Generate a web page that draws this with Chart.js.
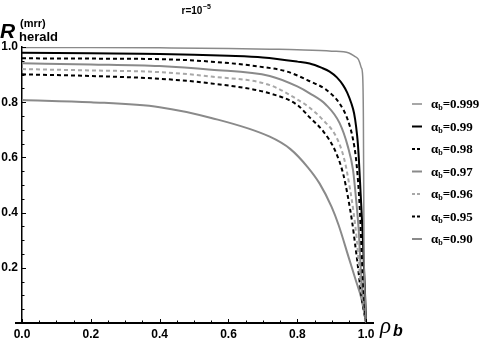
<!DOCTYPE html>
<html>
<head>
<meta charset="utf-8">
<script src="https://cdn.jsdelivr.net/npm/chart.js@4"></script>
<style>
  html, body { margin: 0; padding: 0; background: #fff; }
  #wrap { width: 484px; height: 346px; position: relative; }
</style>
</head>
<body>
<div id="wrap"><canvas id="chart"></canvas></div>
<script>
// values (rho_b -> R_herald)
const alphaLabels = ['0.999', '0.99', '0.98', '0.97', '0.96', '0.95', '0.90'];

const rho999 = [0, 0.2, 0.4, 0.6, 0.72, 0.8, 0.9, 0.95, 0.967, 0.976, 0.981, 0.986, 0.99, 0.992, 0.993, 0.994, 0.997, 1];
const r999   = [0.998, 0.998, 0.997, 0.995, 0.992, 0.99, 0.985, 0.978, 0.966, 0.958, 0.945, 0.925, 0.895, 0.75, 0.5, 0.25, 0.1, 0];

const rho99 = [0, 0.2, 0.4, 0.6, 0.7, 0.8, 0.836, 0.87, 0.894, 0.915, 0.933, 0.945, 0.957, 0.965, 0.971, 0.976, 0.979, 0.984, 0.989, 0.993, 0.997, 1];
const r99   = [0.979, 0.977, 0.975, 0.968, 0.962, 0.947, 0.94, 0.925, 0.911, 0.89, 0.862, 0.835, 0.796, 0.76, 0.711, 0.65, 0.591, 0.47, 0.349, 0.228, 0.1, 0];

const rho98 = [0, 0.2, 0.4, 0.55, 0.69, 0.77, 0.836, 0.884, 0.923, 0.947, 0.962, 0.971, 0.979, 0.984, 0.988, 0.993, 1];
const r98   = [0.959, 0.958, 0.956, 0.947, 0.929, 0.911, 0.876, 0.845, 0.795, 0.735, 0.665, 0.591, 0.47, 0.349, 0.228, 0.11, 0];

const rho97 = [0, 0.2, 0.4, 0.55, 0.72, 0.8, 0.836, 0.884, 0.923, 0.947, 0.962, 0.971, 0.979, 0.983, 0.99, 1];
const r97   = [0.941, 0.937, 0.931, 0.918, 0.895, 0.857, 0.832, 0.79, 0.724, 0.639, 0.554, 0.446, 0.326, 0.228, 0.1, 0];

const rho96 = [0, 0.2, 0.4, 0.55, 0.72, 0.8, 0.836, 0.875, 0.913, 0.937, 0.952, 0.964, 0.973, 0.978, 0.988, 1];
const r96   = [0.92, 0.915, 0.909, 0.893, 0.862, 0.81, 0.78, 0.735, 0.675, 0.591, 0.494, 0.397, 0.301, 0.228, 0.1, 0];

const rho95 = [0, 0.2, 0.4, 0.55, 0.72, 0.8, 0.836, 0.875, 0.909, 0.933, 0.947, 0.96, 0.969, 0.974, 0.986, 1];
const r95   = [0.901, 0.895, 0.885, 0.868, 0.832, 0.79, 0.745, 0.695, 0.627, 0.542, 0.458, 0.361, 0.276, 0.228, 0.1, 0];

const rho90 = [0, 0.2, 0.4, 0.55, 0.72, 0.78, 0.83, 0.865, 0.9, 0.92, 0.95, 0.97, 0.986, 1];
const r90   = [0.808, 0.8, 0.782, 0.743, 0.675, 0.63, 0.565, 0.505, 0.42, 0.355, 0.235, 0.155, 0.09, 0];

const rhoList = [rho999, rho99, rho98, rho97, rho96, rho95, rho90];
const rList = [r999, r99, r98, r97, r96, r95, r90];

// line looks
const colors = ['#8a8a8a', '#000', '#000', '#8a8a8a', '#a8a8a8', '#000', '#8a8a8a'];
const widths = [1.5, 2, 2, 2, 2, 2, 2];
const dashes = [[], [], [4, 3], [], [4, 3], [4, 3], []];

const datasets = alphaLabels.map((a, i) => ({
  label: a,
  data: rhoList[i].map((x, k) => ({ x, y: rList[i][k] })),
  borderColor: colors[i],
  borderWidth: widths[i],
  borderDash: dashes[i],
  pointRadius: 0,
  fill: false,
  cubicInterpolationMode: 'monotone'
}));

const isMajor = v => Math.abs(v * 5 - Math.round(v * 5)) < 1e-6;
const isMinor = v => Math.abs(v * 20 - Math.round(v * 20)) < 1e-6;

// inward ticks, legend, axis titles
const decor = {
  id: 'decor',
  afterDraw(chart) {
    const { ctx, chartArea: a, scales: { x, y } } = chart;
    ctx.save();
    ctx.strokeStyle = '#000';
    ctx.lineWidth = 2;
    ctx.beginPath(); ctx.moveTo(a.left - 7, a.bottom); ctx.lineTo(a.left, a.bottom); ctx.stroke();

    ctx.lineWidth = 1;
    x.ticks.forEach(t => {
      if (t.value > 1.0001 || !isMinor(t.value)) return;
      const px = Math.round(x.getPixelForValue(t.value)) + 0.5;
      ctx.beginPath(); ctx.moveTo(px, a.bottom); ctx.lineTo(px, a.bottom - (isMajor(t.value) ? 4 : 2.5)); ctx.stroke();
    });
    y.ticks.forEach(t => {
      if (!isMinor(t.value) || t.value === 0) return;
      const py = Math.round(y.getPixelForValue(t.value)) + 0.5;
      ctx.beginPath(); ctx.moveTo(a.left, py); ctx.lineTo(a.left + (isMajor(t.value) ? 4 : 2.5), py); ctx.stroke();
    });

    // title r=10^-5
    ctx.fillStyle = '#000';
    ctx.textBaseline = 'alphabetic';
    ctx.font = 'bold 10px "Liberation Sans"';
    const cx = (a.left + a.right) / 2;
    const w1 = ctx.measureText('r=10').width;
    ctx.fillText('r=10', cx - 16, 14);
    ctx.font = 'bold 7px "Liberation Sans"';
    ctx.fillText('\u22125', cx - 16 + w1 + 0.5, 9);

    // y axis title
    ctx.font = 'italic bold 21px "Liberation Sans"';
    ctx.fillText('R', 0, 38);
    ctx.font = 'bold 11px "Liberation Sans"';
    ctx.fillText('(mrr)', 20, 27);
    ctx.font = 'bold 13px "Liberation Sans"';
    ctx.fillText('herald', 19, 41);

    // x axis title
    ctx.font = 'italic 23px "Liberation Serif"';
    ctx.fillText('\u03c1', 380, 333);
    ctx.font = 'italic bold 16px "Liberation Sans"';
    ctx.fillText('b', 393, 336);

    // legend
    chart.data.datasets.forEach((ds, i) => {
      const ly = 104 + i * 22.5;
      ctx.strokeStyle = ds.borderColor;
      ctx.lineWidth = ds.borderWidth;
      ctx.setLineDash(ds.borderDash.length ? [3, 2] : []);
      ctx.beginPath(); ctx.moveTo(412, ly); ctx.lineTo(422, ly); ctx.stroke();
      ctx.setLineDash([]);
      ctx.fillStyle = '#000';
      ctx.font = 'bold 13px "Liberation Serif"';
      ctx.fillText('\u03b1', 431, ly + 4);
      const wa = ctx.measureText('\u03b1').width;
      ctx.font = 'bold 8px "Liberation Serif"';
      ctx.fillText('b', 431 + wa, ly + 6);
      const wb = ctx.measureText('b').width;
      ctx.font = 'bold 13px "Liberation Serif"';
      ctx.fillText('=' + ds.label, 431 + wa + wb, ly + 4);
    });
    ctx.restore();
  }
};

const tickFont = { family: '"Liberation Sans", Arial', size: 12, weight: 'bold' };

new Chart(document.getElementById('chart'), {
  type: 'line',
  data: { datasets },
  options: {
    responsive: true,
    maintainAspectRatio: false,
    animation: false,
    layout: { padding: { top: 47, right: 111, left: 0, bottom: 0 } },
    plugins: { legend: { display: false }, tooltip: { enabled: false }, title: { display: false } },
    scales: {
      x: {
        type: 'linear', min: 0, max: 1.02,
        grid: { display: false, drawTicks: false },
        border: { display: true, color: '#000', width: 2 },
        ticks: {
          stepSize: 0.01, autoSkip: false, maxRotation: 0, padding: 4,
          color: '#000', font: tickFont,
          callback: v => (v <= 1.0001 && isMajor(v)) ? v.toFixed(1) : ''
        },
        afterFit: s => { s.height = 23; }
      },
      y: {
        type: 'linear', min: 0, max: 1,
        grid: { display: false, drawTicks: false },
        border: { display: true, color: '#000', width: 1.5 },
        ticks: {
          stepSize: 0.05, autoSkip: false, padding: 4,
          color: '#000', font: tickFont,
          callback: v => (v > 0 && isMajor(v)) ? v.toFixed(1) : ''
        },
        afterFit: s => { s.width = 22; }
      }
    }
  },
  plugins: [decor]
});
</script>
</body>
</html>
